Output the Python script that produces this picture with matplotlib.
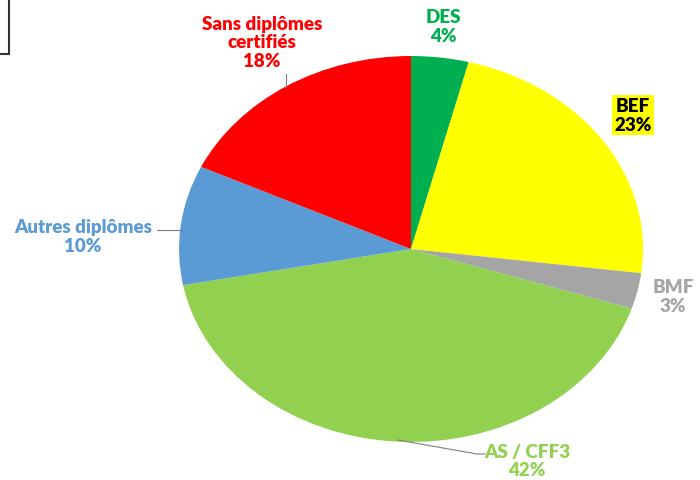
import matplotlib
matplotlib.use("Agg")
import matplotlib.pyplot as plt
from matplotlib.patches import Rectangle

# données du graphique
categories = ["DES", "BEF", "BMF", "AS / CFF3", "Autres diplômes", "Sans diplômes\ncertifiés"]
valeurs = [4, 23, 3, 42, 10, 18]
couleurs = ["#00b050", "#ffff00", "#a5a5a5", "#92d050", "#5b9bd5", "#ff0000"]
couleurs_texte = ["#00b050", "#000000", "#a5a5a5", "#92d050", "#5b9bd5", "#ff0000"]

# positions des étiquettes (coordonnées du camembert)
pos_etiq = [(0.138, 1.155), (0.957, 0.694), (1.129, -0.244),
            (0.50, -1.095), (-1.414, 0.067), (-0.642, 1.073)]

W, H = 700, 481
fig = plt.figure(figsize=(W / 100, H / 100), dpi=100)

# axes en pixels pour obtenir l'ellipse
cx, cy, rx, ry = 411, 250, 232, 193
ax = fig.add_axes([(cx - rx) / W, 1 - (cy + ry) / H, 2 * rx / W, 2 * ry / H])

wedges, _ = ax.pie(valeurs, colors=couleurs, startangle=90, counterclock=False,
                   radius=1, wedgeprops=dict(linewidth=0))
ax.set_aspect("auto")
ax.set_xlim(-1, 1)
ax.set_ylim(-1, 1)
ax.axis("off")

total = sum(valeurs)
for cat, v, col, (x, y) in zip(categories, valeurs, couleurs_texte, pos_etiq):
    txt = f"{cat}\n{round(100 * v / total)}%"
    kw = dict(ha="center", va="center", fontsize=13.5, fontweight="heavy",
              color=col, family="Lato", clip_on=False, linespacing=1.1)
    if cat == "BEF":
        kw["bbox"] = dict(boxstyle="square,pad=0.1", fc="#ffff00", ec="none")
    ax.text(x, y, txt, **kw)


def px(p, q):
    return ((p - cx) / rx, (cy - q) / ry)


# lignes de rappel
for pts in ([(157, 231), (182, 231)],
            [(398, 441), (477, 455), (485, 455)],
            [(286, 75), (286, 88)]):
    xs, ys = zip(*[px(*p) for p in pts])
    ax.plot(xs, ys, color="#7f7f7f", lw=0.8, clip_on=False)

# cadre coupé en haut à gauche
fig.patches.append(Rectangle((-10 / W, 1 - 55 / H), 19 / W, 65 / H,
                             transform=fig.transFigure, fill=False,
                             ec="#333333", lw=1.5))

fig.savefig("out.png", dpi=100, facecolor="white")
